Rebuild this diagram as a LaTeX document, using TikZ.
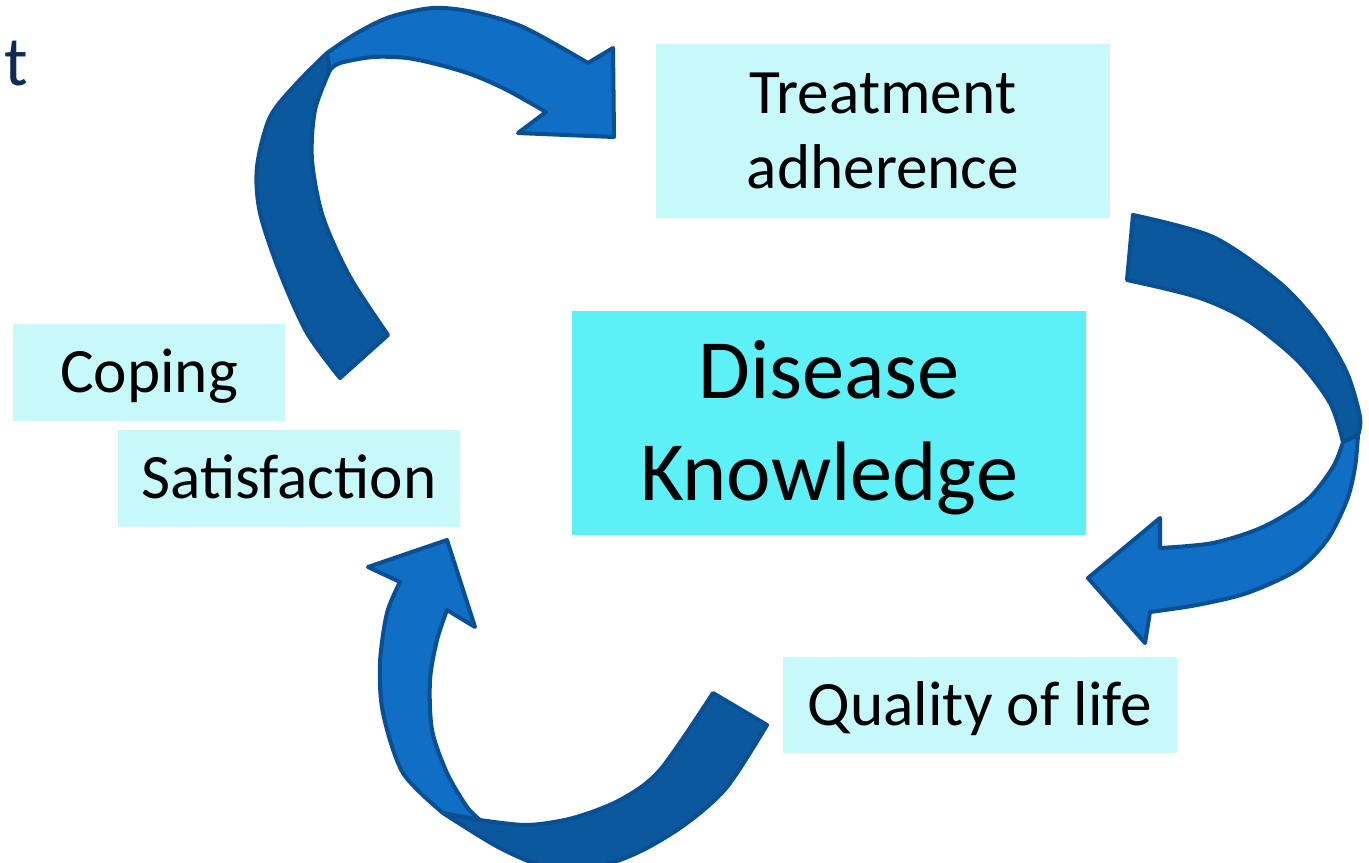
\documentclass[tikz,border=0pt]{standalone}
\usepackage{fontspec}
\setmainfont{Carlito}
\usepackage{tikz}
\usetikzlibrary{positioning}
\definecolor{boxlight}{RGB}{200,249,250}
\definecolor{boxmain}{RGB}{93,240,247}
\definecolor{arrowdark}{RGB}{12,88,158}
\definecolor{arrowlight}{RGB}{16,111,196}
\definecolor{arrowedge}{RGB}{9,79,147}
\definecolor{titleblue}{RGB}{12,44,88}

\begin{document}
\begin{tikzpicture}[
    x=0.02cm, y=-0.02cm,
    tbox/.style={rectangle, fill=boxlight, inner sep=0pt, align=center,
                font=\fontsize{36}{42.5}\selectfont, text height=22.8pt, text depth=0pt},
    mbox/.style={rectangle, fill=boxmain, inner sep=0pt, align=center,
                font=\fontsize{48}{58.4}\selectfont},
    darkband/.style={fill=arrowdark, draw=arrowedge, line width=2.3pt, line join=round},
    lightband/.style={fill=arrowlight, draw=arrowedge, line width=2.3pt, line join=round}
]
\useasboundingbox (0,0) rectangle (1369,862);

% Boxes
\node[tbox, minimum width=9.08cm, minimum height=3.48cm, text height=65.3pt] (treat) at (883,131) {Treatment\\adherence};
\node[mbox, minimum width=10.28cm, minimum height=4.5cm, text height=88.7pt, text depth=0pt] (disease) at (829,423) {Disease\\Knowledge};
\node[tbox, minimum width=5.44cm, minimum height=1.94cm] (coping) at (149,372.5) {Coping};
\node[tbox, minimum width=6.84cm, minimum height=1.94cm] (satis) at (289,478.5) {Satisfaction};
\node[tbox, minimum width=7.88cm, minimum height=1.92cm] (qol) at (980,705) {Quality of life};

\node[anchor=base west, inner sep=0pt, font=\fontsize{40}{48}\selectfont, text=titleblue] (title) at (4,85) {t};

% Top arrow
\filldraw[darkband] (340,378) -- (388,335)
  -- plot[smooth] coordinates {(388,335) (350,277) (323,217) (312,160) (315,110) (330,70)}
  -- (327,53)
  -- plot[smooth] coordinates {(327,53) (297,83) (270,117) (257,167) (260,213) (280,273) (307,333) (340,378)}
  -- cycle;
\filldraw[lightband] plot[smooth] coordinates {(327,53) (357,33) (390,17) (433,8) (473,12) (523,27) (588,63)}
  -- (613,48) -- (614,137) -- (518,133) -- (546,112)
  -- plot[smooth] coordinates {(546,112) (507,90) (473,75) (440,65) (407,58) (373,57) (340,63) (330,70)}
  -- cycle;

% Right arrow
\filldraw[darkband] (1127,280) -- (1133,215)
  -- plot[smooth] coordinates {(1133,215) (1213,237) (1280,283) (1320,327) (1347,373) (1360,417) (1358,435)}
  -- (1343,442)
  -- plot[smooth] coordinates {(1343,442) (1330,403) (1297,360) (1247,320) (1197,297) (1127,280)}
  -- cycle;
\filldraw[lightband] plot[smooth] coordinates {(1358,435) (1355,467) (1347,500) (1327,540) (1297,570) (1247,593) (1197,605) (1150,612)}
  -- (1145,643) -- (1088,578) -- (1160,518) -- (1160,548)
  -- plot[smooth] coordinates {(1160,548) (1213,543) (1263,527) (1307,500) (1333,467) (1343,442)}
  -- cycle;

% Bottom arrow
\filldraw[darkband] (713,693) -- (767,725)
  -- plot[smooth] coordinates {(767,725) (727,787) (687,823) (643,850) (600,866) (550,868) (500,848) (443,813)}
  -- (480,820)
  -- plot[smooth] coordinates {(480,820) (527,825) (573,818) (620,800) (660,770) (713,693)}
  -- cycle;
\filldraw[lightband] plot[smooth] coordinates {(443,813) (403,773) (383,713) (380,663) (387,613) (400,582)}
  -- (368,567) -- (447,540) -- (475,627) -- (447,610)
  -- plot[smooth] coordinates {(447,610) (437,640) (430,680) (432,730) (447,773) (467,807) (480,820)}
  -- cycle;
\end{tikzpicture}
\end{document}
